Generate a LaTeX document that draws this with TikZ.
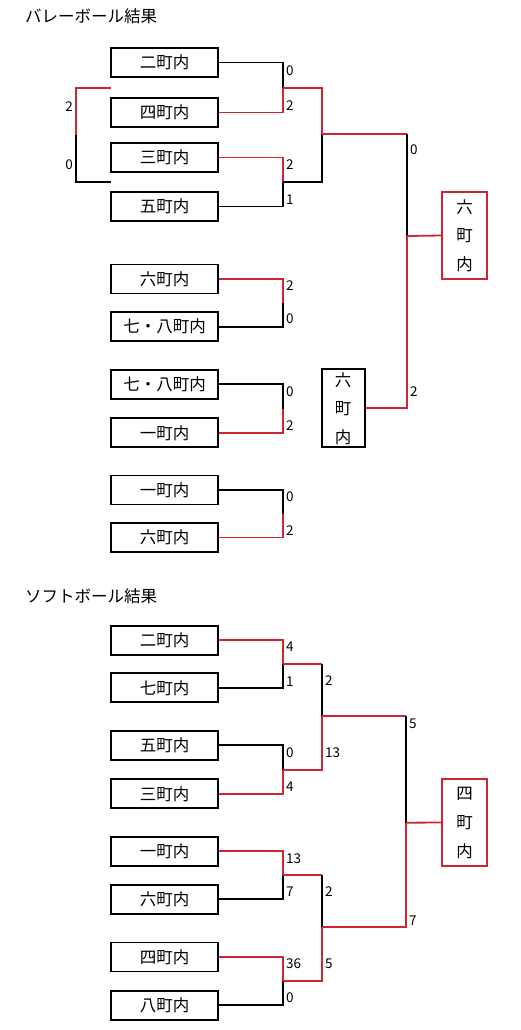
\documentclass[tikz,border=0pt]{standalone}
\usepackage{fontspec}
\setmainfont{Noto Sans CJK JP}
\definecolor{winred}{RGB}{208,36,48}

\begin{document}
\begin{tikzpicture}[x=1pt,y=-1pt,
  team/.style={draw,line width=1.7pt,minimum width=107pt,minimum height=29pt,
               inner sep=0pt,font=\fontsize{16.5}{18}\selectfont},
  champ/.style={draw,line width=1.7pt,minimum width=45pt,minimum height=87pt,
                inner sep=0pt,align=center,font=\fontsize{16.5}{28.5}\selectfont},
  win/.style={line width=1.8pt,winred},
  lose/.style={line width=1.8pt,black},
  pts/.style={anchor=west,inner sep=0pt,font=\fontsize{13.5}{13.5}\selectfont},
  ttl/.style={anchor=west,inner sep=0pt,font=\fontsize{16.5}{18}\selectfont}
]
\useasboundingbox (0,0) rectangle (520,1030);

% ---- Volleyball ----
\node[ttl] (vtitle) at (25,16.5) {バレーボール結果};

\node[team] (v1)  at (164.5,62.5)  {二町内};
\node[team] (v2)  at (164.5,112.5) {四町内};
\node[team] (v3)  at (164.5,157.5) {三町内};
\node[team] (v4)  at (164.5,206.5) {五町内};
\node[team] (v5)  at (164.5,279)   {六町内};
\node[team] (v6)  at (164.5,326.7) {七・八町内};
\node[team] (v7)  at (164.5,384.3) {七・八町内};
\node[team] (v8)  at (164.5,432.8) {一町内};
\node[team] (v9)  at (164.5,490)   {一町内};
\node[team] (v10) at (164.5,537.5) {六町内};
\node[champ,minimum height=78pt,minimum width=43pt] (vm) at (343.2,408.3) {六\\町\\内};
\node[champ,draw=winred] (vf) at (464.5,235.5) {六\\町\\内};

% joints
\coordinate (m1) at (283,88);
\coordinate (m2) at (283,182);
\coordinate (m3) at (283,302.7);
\coordinate (m4) at (283,408.5);
\coordinate (m5) at (283,513.7);
\coordinate (s1) at (322,134);
\coordinate (s1r) at (407,134);
\coordinate (f1) at (407,236);

% first round
\draw[lose] (v1.east) -| (m1);
\draw[win]  (v2.east) -| (m1);
\draw[win]  (v3.east) -| (m2);
\draw[lose] (v4.east) -| (m2);
\draw[win]  (v5.east) -| (m3);
\draw[lose] (v6.east) -| (m3);
\draw[lose] (v7.east) -| (m4);
\draw[win]  (v8.east) -| (m4);
\draw[lose] (v9.east) -| (m5);
\draw[win]  (v10.east) -| (m5);
% semifinal and final
\draw[win]  (m1) -| (s1);
\draw[lose] (m2) -| (s1);
\draw[win]  (s1) -- (s1r);
\draw[lose] (s1r) -- (f1);
\draw[win]  (vm.east) -| (f1);
\draw[win]  (f1) -- (vf.west);

% side bracket (left)
\coordinate (lt) at (111,88);
\coordinate (lm) at (76,135);
\coordinate (lb) at (111,182);
\draw[win]  (lt) -| (lm);
\draw[lose] (lm) |- (lb);
\node[pts,anchor=center] at (69,107) {2};
\node[pts,anchor=center] at (69,165) {0};

% scores
\node[pts] at (286,71)  {0};
\node[pts] at (286,106) {2};
\node[pts] at (286,165) {2};
\node[pts] at (286,200) {1};
\node[pts] at (286,286) {2};
\node[pts] at (286,319) {0};
\node[pts] at (286,392) {0};
\node[pts] at (286,426) {2};
\node[pts] at (286,497) {0};
\node[pts] at (286,531) {2};
\node[pts] at (410,150) {0};
\node[pts] at (410,392) {2};

% ---- Softball ----
\node[ttl] (stitle) at (25,596.5) {ソフトボール結果};

\node[team] (b1) at (164.5,640.2)  {二町内};
\node[team] (b2) at (164.5,687.8)  {七町内};
\node[team] (b3) at (164.5,745.3)  {五町内};
\node[team] (b4) at (164.5,793.8)  {三町内};
\node[team] (b5) at (164.5,851.2)  {一町内};
\node[team] (b6) at (164.5,899.3)  {六町内};
\node[team] (b7) at (164.5,957)    {四町内};
\node[team] (b8) at (164.5,1005.2) {八町内};
\node[champ,draw=winred,font=\fontsize{16.5}{29}\selectfont] (bf) at (464.5,822.5) {四\\町\\内};

% joints
\coordinate (n1) at (283,664);
\coordinate (n2) at (283,770);
\coordinate (n3) at (283,875.3);
\coordinate (n4) at (283,981);
\coordinate (t1) at (322,716);
\coordinate (t1u) at (322,664);
\coordinate (t2) at (322,927.3);
\coordinate (t2u) at (322,875.3);
\coordinate (g1) at (406,822.7);
\coordinate (g1u) at (406,716);

% first round
\draw[win]  (b1.east) -| (n1);
\draw[lose] (b2.east) -| (n1);
\draw[lose] (b3.east) -| (n2);
\draw[win]  (b4.east) -| (n2);
\draw[win]  (b5.east) -| (n3);
\draw[lose] (b6.east) -| (n3);
\draw[win]  (b7.east) -| (n4);
\draw[lose] (b8.east) -| (n4);
% semifinal and final
\draw[win]  (n1) -- (t1u);
\draw[lose] (t1u) -- (t1);
\draw[win]  (n2) -| (t1);
\draw[win]  (n3) -- (t2u);
\draw[lose] (t2u) -- (t2);
\draw[win]  (n4) -| (t2);
\draw[win]  (t1) -- (g1u);
\draw[lose] (g1u) -- (g1);
\draw[win]  (t2) -| (g1);
\draw[win]  (g1) -- (bf.west);

% scores
\node[pts] at (286,647) {4};
\node[pts] at (286,682) {1};
\node[pts] at (286,753) {0};
\node[pts] at (286,787) {4};
\node[pts] at (325,681) {2};
\node[pts] at (325,753) {13};
\node[pts] at (409,724) {5};
\node[pts] at (409,921) {7};
\node[pts] at (286,859) {13};
\node[pts] at (286,892) {7};
\node[pts] at (325,892) {2};
\node[pts] at (325,964) {5};
\node[pts] at (286,964) {36};
\node[pts] at (286,998) {0};

\end{tikzpicture}
\end{document}
